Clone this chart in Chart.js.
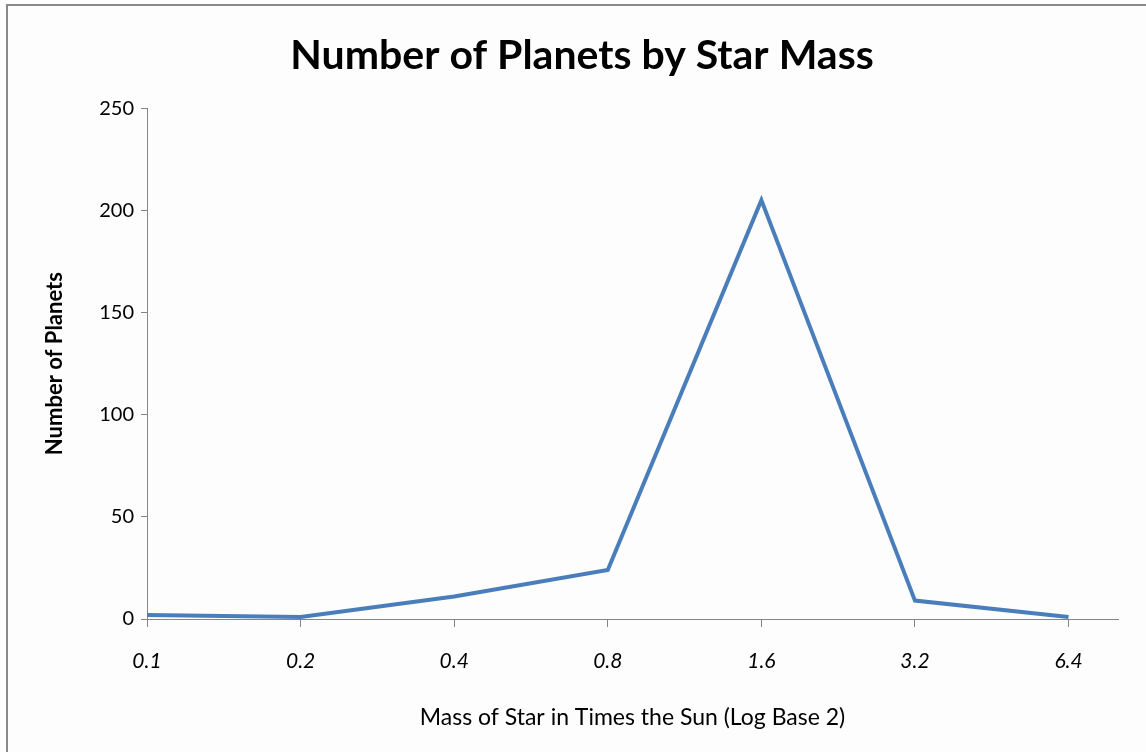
<!DOCTYPE html>
<html>
<head>
<meta charset="utf-8">
<script src="https://cdn.jsdelivr.net/npm/chart.js@4.4.1/dist/chart.umd.min.js"></script>
<style>
  html, body { margin: 0; padding: 0; background: #fdfdfd; overflow: hidden; }
  #wrap { position: relative; width: 1146px; height: 752px; }
  #frame { position: absolute; left: 6px; top: 4px; width: 2000px; height: 2000px;
           border-top: 2px solid #898989; border-left: 2px solid #898989; box-sizing: border-box; }
  canvas { position: absolute; left: 0; top: 0; }
</style>
</head>
<body>
<div id="wrap">
  <div id="frame"></div>
  <canvas id="c" width="1146" height="752"></canvas>
</div>
<script>
// Data
const starMass = [0.1, 0.2, 0.4, 0.8, 1.6, 3.2, 6.4];
const planetCounts = [2, 1, 11, 24, 205, 9, 1];
const yTicks = [0, 50, 100, 150, 200, 250];
const chartTitle = 'Number of Planets by Star Mass';
const xTitle = 'Mass of Star in Times the Sun (Log Base 2)';
const yTitle = 'Number of Planets';

const FONT = 'Lato, "Open Sans", sans-serif';
const axisGray = '#868686';

new Chart(document.getElementById('c'), {
  type: 'line',
  data: {
    datasets: [{
      data: starMass.map((m, i) => ({ x: m, y: planetCounts[i] })),
      borderColor: '#4a7ebb',
      borderWidth: 4,
      pointRadius: 0,
      tension: 0,
      fill: false
    }]
  },
  options: {
    responsive: false,
    animation: false,
    layout: { padding: { left: 46, right: 28, top: 0, bottom: 0 } },
    plugins: {
      legend: { display: false },
      tooltip: { enabled: false },
      title: {
        display: true,
        text: chartTitle,
        color: '#000',
        font: { family: FONT, size: 41, weight: 'bold' },
        padding: { top: 31, bottom: 28 }
      }
    },
    scales: {
      x: {
        type: 'logarithmic',
        min: 0.1,
        max: 8,
        afterBuildTicks: (scale) => { scale.ticks = starMass.map(v => ({ value: v })); },
        afterFit: (scale) => { scale.height = 133; },
        ticks: {
          autoSkip: false,
          maxRotation: 0,
          color: '#000',
          font: { family: FONT, size: 21, style: 'italic' },
          padding: 22,
          callback: (v) => String(v)
        },
        grid: { display: true, drawOnChartArea: false, drawTicks: true, tickLength: 8, color: axisGray, lineWidth: 1 },
        border: { display: true, color: axisGray, width: 1 },
        title: {
          display: true,
          text: xTitle,
          color: '#000',
          font: { family: FONT, size: 23 },
          padding: { top: 0, bottom: 21 }
        }
      },
      y: {
        type: 'linear',
        min: 0,
        max: 250,
        afterBuildTicks: (scale) => { scale.ticks = yTicks.map(v => ({ value: v })); },
        afterFit: (scale) => { scale.width = 101; },
        ticks: {
          color: '#000',
          font: { family: FONT, size: 20 },
          padding: 7
        },
        grid: { display: true, drawOnChartArea: false, drawTicks: true, tickLength: 6, color: axisGray, lineWidth: 1 },
        border: { display: true, color: axisGray, width: 1 },
        title: {
          display: true,
          text: yTitle,
          color: '#000',
          font: { family: FONT, size: 22, weight: 'bold' },
          padding: { top: -4, bottom: 0 }
        }
      }
    }
  }
});
</script>
</body>
</html>
